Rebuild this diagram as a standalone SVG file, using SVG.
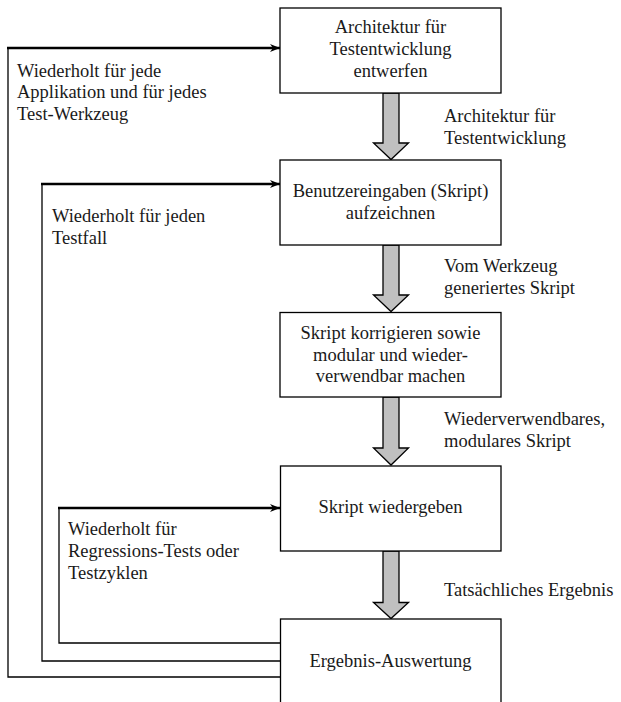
<svg xmlns="http://www.w3.org/2000/svg" width="621" height="702" viewBox="0 0 621 702">
<style>
text{font-family:'Liberation Serif','Times New Roman',Times,'DejaVu Serif',serif;font-size:18.5px;fill:#1a1a1a}
.c{text-anchor:middle}
.box{fill:#fff;stroke:#000;stroke-width:1.3}
.fb{fill:none;stroke:#000;stroke-width:1.3}
.fa{fill:none;stroke:#000;stroke-width:2.3}
.big{fill:#c0c0c0;stroke:#000;stroke-width:1.3;stroke-linejoin:miter}
</style>
<defs>
<marker id="ah" viewBox="0 0 10 8" refX="10" refY="4" markerWidth="10" markerHeight="8" markerUnits="userSpaceOnUse" orient="auto">
<path d="M0,0 L10,4 L0,8 L3,4 Z" fill="#000"/>
</marker>
</defs>
<g id="connectors">
<path class="big" d="M383,93 V143 H373.5 L391,159.5 L408.5,143 H399 V93 Z"/>
<path class="big" d="M383,245 V295 H373.5 L391,311.5 L408.5,295 H399 V245 Z"/>
<path class="big" d="M383,397 V448 H373.5 L391,465 L408.5,448 H399 V397 Z"/>
<path class="big" d="M383,551 V602.5 H373.5 L391,618.5 L408.5,602.5 H399 V551 Z"/>
<path class="fb" d="M280,677 H8 V48"/>
<path class="fa" d="M7,48 H280" marker-end="url(#ah)"/>
<path class="fb" d="M280,661 H42 V184"/>
<path class="fa" d="M41,184 H280" marker-end="url(#ah)"/>
<path class="fb" d="M280,643 H59 V508"/>
<path class="fa" d="M58,508 H280" marker-end="url(#ah)"/>
<text font-family="Liberation Serif, serif" x="444" y="122">Architektur für</text>
<text x="444" y="143.5">Testentwicklung</text>
<text x="444" y="272">Vom Werkzeug</text>
<text x="444" y="293.5">generiertes Skript</text>
<text x="444" y="425">Wiederverwendbares,</text>
<text x="444" y="446.5">modulares Skript</text>
<text x="444" y="596">Tatsächliches Ergebnis</text>
<text x="17" y="76.5">Wiederholt für jede</text>
<text x="17" y="98">Applikation und für jedes</text>
<text x="17" y="120">Test-Werkzeug</text>
<text x="52" y="221.5">Wiederholt für jeden</text>
<text x="52" y="243.5">Testfall</text>
<text x="68" y="535">Wiederholt für</text>
<text x="68" y="557">Regressions-Tests oder</text>
<text x="68" y="579">Testzyklen</text>
</g>
<g id="n1">
<rect class="box" x="280" y="8" width="221" height="85"/>
<text class="c" x="390.5" y="33">Architektur für</text>
<text class="c" x="390.5" y="55">Testentwicklung</text>
<text class="c" x="390.5" y="77">entwerfen</text>
</g>
<g id="n2">
<rect class="box" x="280" y="160" width="221" height="85"/>
<text class="c" x="390.5" y="197">Benutzereingaben (Skript)</text>
<text class="c" x="390.5" y="218.5">aufzeichnen</text>
</g>
<g id="n3">
<rect class="box" x="280" y="312.5" width="221" height="84.5"/>
<text class="c" x="390.5" y="339">Skript korrigieren sowie</text>
<text class="c" x="390.5" y="360.5">modular und wieder-</text>
<text class="c" x="390.5" y="382">verwendbar machen</text>
</g>
<g id="n4">
<rect class="box" x="280.5" y="466" width="220.5" height="85"/>
<text class="c" x="390.5" y="513">Skript wiedergeben</text>
</g>
<g id="n5">
<rect class="box" x="280.5" y="619" width="220.5" height="90"/>
<text class="c" x="390.5" y="666.5">Ergebnis-Auswertung</text>
</g>
</svg>
